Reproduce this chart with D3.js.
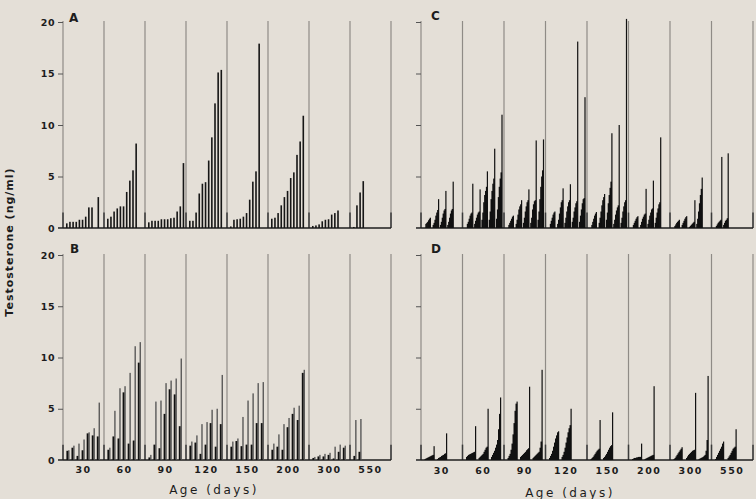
<!DOCTYPE html>
<html>
<head>
<meta charset="utf-8">
<script src="https://cdn.jsdelivr.net/npm/d3@7"></script>
<style>
body { margin: 0; background: #e4dfd7; }
svg { display: block; }
text { font-family: "DejaVu Sans", sans-serif; fill: #1c1c1c; }
</style>
</head>
<body>
<div id="chart"></div>
<script>
const ageLabels = ["30", "60", "90", "120", "150", "200", "300", "550"];
const yTicks = [0, 5, 10, 15, 20];
const stubValue = 1.5;

// panel A: one bar per sample, per age group
const panelA = [
    [0.45, 0.6, 0.6, 0.6, 0.8, 0.8, 1.1, 2.0, 2.0, 0, 3.0],
    [0.9, 1.1, 1.6, 1.9, 2.1, 2.1, 3.5, 4.6, 5.6, 8.2],
    [0.55, 0.7, 0.7, 0.7, 0.85, 0.85, 0.85, 0.95, 1.0, 1.6, 2.1, 6.3],
    [0.7, 0.7, 1.5, 3.35, 4.3, 4.45, 6.55, 8.8, 12.1, 15.1, 15.35],
    [0.15, 0.8, 0.85, 0.9, 1.1, 1.45, 2.75, 4.5, 5.5, 17.9],
    [0.9, 1.0, 1.45, 2.2, 3.0, 3.6, 4.85, 5.4, 7.1, 8.4, 10.9],
    [0.2, 0.25, 0.35, 0.65, 0.8, 0.85, 1.3, 1.45, 1.7],
    [0.1, 2.2, 3.45, 4.55]
];

// panel B: paired bars (dark, light)
const panelBDark = [
    [0.9, 1.2, 0.4, 0.95, 2.6, 2.4, 2.3],
    [1.0, 2.3, 2.1, 6.6, 1.6, 1.9, 9.5],
    [0.25, 1.5, 1.15, 4.5, 6.9, 6.4, 3.3],
    [1.4, 1.7, 0.6, 1.5, 3.6, 1.3, 3.5],
    [1.3, 1.85, 1.35, 1.5, 1.5, 3.6, 3.6],
    [1.0, 1.3, 1.0, 3.2, 4.5, 3.9, 8.5],
    [0.2, 0.35, 0.35, 0.5, 0.15, 0.8, 1.2],
    [0.4, 0.8]
];
const panelBLight = [
    [0.95, 1.4, 1.6, 2.0, 2.7, 3.1, 5.6],
    [1.2, 4.8, 7.0, 7.2, 8.5, 11.1, 11.5],
    [0.5, 5.7, 5.8, 7.5, 7.75, 7.95, 9.9],
    [1.8, 2.4, 3.5, 3.7, 4.9, 5.0, 8.3],
    [1.8, 2.1, 4.2, 5.8, 6.5, 7.5, 7.6],
    [1.6, 2.5, 3.5, 4.1, 5.1, 5.3, 8.8],
    [0.3, 0.5, 0.6, 0.7, 1.3, 1.5, 1.4],
    [3.9, 4.0]
];

// panel C: clusters of sorted samples per animal
const panelC = [
    [[0.4, 0.5, 0.6, 0.75, 0.9, 1.0],
     [0.3, 0.5, 0.8, 1.2, 1.5, 1.75, 2.8],
     [0.3, 0.6, 1.0, 1.4, 1.7, 1.85, 3.6],
     [0.3, 0.6, 1.0, 1.4, 1.7, 1.85, 4.5]],
    [[0.4, 0.6, 0.9, 1.2, 1.4, 1.5, 4.3],
     [0.4, 0.7, 1.0, 1.3, 1.5, 1.6, 3.75],
     [0.8, 1.5, 2.5, 3.2, 3.6, 4.0, 5.5],
     [0.8, 1.6, 2.8, 3.6, 4.3, 4.8, 7.7],
     [0.9, 1.8, 3.0, 4.0, 4.8, 5.4, 11.0]],
    [[0.3, 0.5, 0.7, 0.9, 1.1, 1.2],
     [0.4, 0.8, 1.3, 1.8, 2.1, 2.3, 2.7],
     [0.5, 1.0, 1.6, 2.1, 2.5, 2.7, 3.75],
     [0.5, 1.0, 1.8, 2.3, 2.6, 2.7, 8.5],
     [0.8, 1.6, 2.8, 4.0, 5.0, 5.6, 8.6]],
    [[0.4, 0.7, 1.0, 1.3, 1.5, 1.6],
     [0.4, 0.8, 1.4, 2.0, 2.5, 2.7, 3.85],
     [0.5, 1.0, 1.6, 2.1, 2.5, 2.7, 4.25],
     [0.6, 1.0, 1.6, 2.0, 2.4, 2.6, 18.1],
     [0.6, 1.2, 1.8, 2.4, 2.8, 2.9, 12.7]],
    [[0.3, 0.6, 0.9, 1.2, 1.4, 1.55],
     [0.5, 1.0, 1.6, 2.2, 2.7, 3.0, 3.3],
     [0.8, 1.5, 2.4, 3.2, 3.9, 4.5, 9.2],
     [0.4, 0.8, 1.3, 1.7, 2.0, 2.2, 10.0],
     [0.5, 1.0, 1.6, 2.1, 2.5, 2.7, 20.3]],
    [[0.3, 0.5, 0.7, 0.9, 1.05, 1.15],
     [0.3, 0.6, 0.9, 1.1, 1.3, 1.4, 3.8],
     [0.4, 0.8, 1.2, 1.5, 1.8, 1.9, 4.6],
     [0.5, 1.0, 1.5, 1.9, 2.3, 2.5, 8.8]],
    [[0.2, 0.35, 0.5, 0.6, 0.7, 0.8],
     [0.3, 0.5, 0.7, 0.9, 1.05, 1.15],
     [0.1, 0.2, 0.3, 0.4, 0.5, 0.6, 2.7],
     [0.4, 0.9, 1.6, 2.4, 3.2, 3.8, 4.9]],
    [[0.2, 0.35, 0.5, 0.6, 0.7, 0.8, 6.9],
     [0.3, 0.5, 0.7, 0.8, 0.95, 7.25]]
];

// panel D: same layout as C, fewer and wider clusters
const panelD = [
    [[0.1, 0.15, 0.2, 0.25, 0.3, 0.35, 0.4, 0.45, 0.5, 1.35],
     [0.1, 0.2, 0.25, 0.3, 0.4, 0.45, 0.5, 0.6, 0.65, 2.6]],
    [[0.3, 0.4, 0.5, 0.55, 0.6, 0.65, 0.7, 0.75, 0.8, 3.3],
     [0.2, 0.3, 0.4, 0.5, 0.6, 0.8, 1.0, 1.2, 1.3, 5.0],
     [0.3, 0.5, 0.7, 0.9, 1.2, 1.5, 1.95, 3.0, 4.5, 6.1]],
    [[0.2, 0.4, 0.6, 1.0, 1.6, 2.5, 3.6, 4.8, 5.5, 5.7],
     [0.3, 0.4, 0.5, 0.6, 0.7, 0.8, 0.95, 1.05, 1.15, 7.15],
     [0.2, 0.3, 0.4, 0.5, 0.6, 0.7, 0.8, 1.2, 1.8, 8.8]],
    [[0.2, 0.4, 0.6, 0.9, 1.3, 1.7, 2.1, 2.4, 2.7, 2.8],
     [0.3, 0.5, 0.8, 1.2, 1.7, 2.2, 2.7, 3.1, 3.4, 5.0]],
    [[0.1, 0.2, 0.3, 0.45, 0.6, 0.75, 0.9, 1.0, 1.1, 3.9],
     [0.2, 0.3, 0.45, 0.6, 0.8, 1.0, 1.2, 1.35, 1.45, 4.65]],
    [[0.1, 0.15, 0.2, 0.2, 0.25, 0.25, 0.3, 0.3, 0.3, 1.6],
     [0.1, 0.15, 0.2, 0.25, 0.3, 0.35, 0.4, 0.45, 0.5, 7.2]],
    [[0.1, 0.2, 0.35, 0.5, 0.65, 0.8, 0.95, 1.1, 1.25],
     [0.2, 0.35, 0.5, 0.6, 0.7, 0.8, 0.9, 0.95, 1.0, 6.55],
     [0.1, 0.15, 0.2, 0.25, 0.3, 0.4, 0.5, 0.9, 1.95, 8.2]],
    [[0.1, 0.3, 0.5, 0.7, 0.9, 1.1, 1.3, 1.6, 1.8],
     [0.2, 0.35, 0.5, 0.7, 0.9, 1.1, 1.2, 1.3, 3.0]]
];

const width = 756, height = 499;
const svg = d3.select("#chart").append("svg")
    .attr("width", width)
    .attr("height", height);

svg.append("rect").attr("width", width).attr("height", height).attr("fill", "#e4dfd7");

const yTop = d3.scaleLinear().domain([0, 20]).range([228, 22]);
const yBottom = d3.scaleLinear().domain([0, 20]).range([460, 255]);
const xLeft = d3.scaleBand().domain(ageLabels).range([63, 391]);
const xRight = d3.scaleBand().domain(ageLabels).range([421, 753]);

// offsets inside one age group
const barSlot = d3.scaleLinear().domain([0, 10]).range([3.8, 35.3]);
const pairSlot = d3.scaleLinear().domain([0, 6]).range([4, 34.4]);
const clusterSlotC = d3.scaleLinear().domain([0, 4]).range([4.3, 33.5]);
const clusterSlotD = d3.scaleLinear().domain([0, 2]).range([3.5, 28.5]);

function drawFrame(x, y, labelled) {
    const g = svg.append("g");
    const edges = x.domain().map(d => x(d)).concat([x.range()[1]]);

    g.selectAll(".sep").data(edges).join("line")
        .attr("class", "sep")
        .attr("x1", d => d).attr("x2", d => d)
        .attr("y1", y(0)).attr("y2", y(20) - 1)
        .attr("stroke", "#8f8b86")
        .attr("stroke-width", 1.2);

    g.selectAll(".stub").data(edges).join("line")
        .attr("class", "stub")
        .attr("x1", d => d).attr("x2", d => d)
        .attr("y1", y(0)).attr("y2", y(stubValue))
        .attr("stroke", "#3a3a3a")
        .attr("stroke-width", 1.5);

    g.append("line")
        .attr("x1", x.range()[0] - 5).attr("x2", x.range()[1])
        .attr("y1", y(0)).attr("y2", y(0))
        .attr("stroke", "#1e1e1e")
        .attr("stroke-width", 1.3);

    const axis = g.append("g")
        .attr("transform", `translate(${x.range()[0]},0)`)
        .call(d3.axisLeft(y).tickValues(yTicks).tickSize(5).tickPadding(3)
            .tickFormat(labelled ? d3.format("d") : () => ""));
    axis.select(".domain").remove();
    axis.selectAll(".tick line").attr("stroke", "#555").attr("stroke-width", 1);
    axis.selectAll(".tick text")
        .style("font-family", "DejaVu Sans, sans-serif")
        .style("font-size", "9.5px")
        .style("font-weight", "bold")
        .style("letter-spacing", "0.5px")
        .attr("fill", "#222");
    return g;
}

function drawAgeLabels(x, yPos) {
    svg.append("g").selectAll("text").data(ageLabels).join("text")
        .attr("x", d => x(d) + x.bandwidth() / 2)
        .attr("y", yPos)
        .attr("text-anchor", "middle")
        .style("font-size", "9.5px")
        .style("font-weight", "bold")
        .style("letter-spacing", "1.5px")
        .text(d => d);
}

// panel A
const gA = drawFrame(xLeft, yTop, true);
const barsA = panelA.flatMap((vals, gi) => vals.map((v, i) => ({ age: ageLabels[gi], i, v })));
gA.selectAll(".bar").data(barsA).join("rect")
    .attr("class", "bar")
    .attr("x", d => xLeft(d.age) + barSlot(d.i) - 0.8)
    .attr("y", d => yTop(d.v))
    .attr("width", 1.6)
    .attr("height", d => yTop(0) - yTop(d.v))
    .attr("fill", "#161616");

// panel B
const gB = drawFrame(xLeft, yBottom, true);
const barsBLight = panelBLight.flatMap((vals, gi) => vals.map((v, i) => ({ age: ageLabels[gi], i, v })));
const barsBDark = panelBDark.flatMap((vals, gi) => vals.map((v, i) => ({ age: ageLabels[gi], i, v })));
gB.selectAll(".light").data(barsBLight).join("rect")
    .attr("class", "light")
    .attr("x", d => xLeft(d.age) + pairSlot(d.i) + 1.2)
    .attr("y", d => yBottom(d.v))
    .attr("width", 1.3)
    .attr("height", d => yBottom(0) - yBottom(d.v))
    .attr("fill", "#4f4f4f");
gB.selectAll(".dark").data(barsBDark).join("rect")
    .attr("class", "dark")
    .attr("x", d => xLeft(d.age) + pairSlot(d.i) - 0.6)
    .attr("y", d => yBottom(d.v))
    .attr("width", 1.8)
    .attr("height", d => yBottom(0) - yBottom(d.v))
    .attr("fill", "#111");

// panels C and D: bars overlap so each cluster reads as one solid shape
function drawClusters(g, data, y, slot, step) {
    const bars = data.flatMap((clusters, gi) =>
        clusters.flatMap((vals, k) => vals.map((v, j) => ({ age: ageLabels[gi], k, j, v, last: j === vals.length - 1 }))));
    g.selectAll(".cl").data(bars).join("rect")
        .attr("class", "cl")
        .attr("x", d => xRight(d.age) + slot(d.k) + d.j * step)
        .attr("y", d => y(d.v))
        .attr("width", d => d.last ? 1.2 : step + 0.7)
        .attr("height", d => y(0) - y(d.v))
        .attr("fill", "#111");
}

const gC = drawFrame(xRight, yTop, false);
drawClusters(gC, panelC, yTop, clusterSlotC, 0.9);

const gD = drawFrame(xRight, yBottom, false);
drawClusters(gD, panelD, yBottom, clusterSlotD, 1.0);

drawAgeLabels(xLeft, 473);
drawAgeLabels(xRight, 474);

// panel letters
const letters = [
    { t: "A", x: 69, y: 22 },
    { t: "B", x: 70, y: 253 },
    { t: "C", x: 431, y: 20 },
    { t: "D", x: 431, y: 253 }
];
svg.append("g").selectAll("text").data(letters).join("text")
    .attr("x", d => d.x).attr("y", d => d.y)
    .style("font-size", "12px")
    .style("font-weight", "bold")
    .text(d => d.t);

// axis titles
svg.append("text")
    .attr("x", 214).attr("y", 494)
    .attr("text-anchor", "middle")
    .style("font-size", "12px")
    .style("letter-spacing", "2.5px")
    .text("Age (days)");
svg.append("text")
    .attr("x", 570).attr("y", 497)
    .attr("text-anchor", "middle")
    .style("font-size", "12px")
    .style("letter-spacing", "2.5px")
    .text("Age (days)");
svg.append("text")
    .attr("transform", "translate(13,242) rotate(-90)")
    .attr("text-anchor", "middle")
    .style("font-size", "11px")
    .style("font-weight", "bold")
    .style("letter-spacing", "1px")
    .text("Testosterone (ng/ml)");
</script>
</body>
</html>
